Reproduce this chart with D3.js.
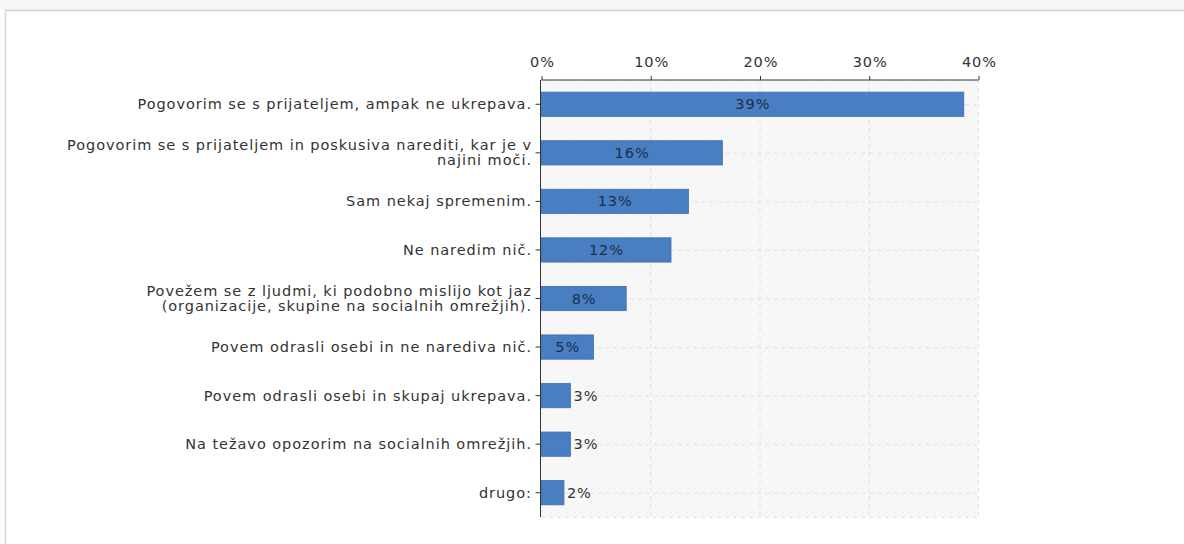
<!DOCTYPE html>
<html><head><meta charset="utf-8">
<script src="https://cdn.jsdelivr.net/npm/d3@7"></script>
<style>
html,body{margin:0;padding:0;background:#fff;}
svg{display:block;}
</style></head>
<body>
<script>
const categories = [
  ["Pogovorim se s prijateljem, ampak ne ukrepava."],
  ["Pogovorim se s prijateljem in poskusiva narediti, kar je v", "najini moči."],
  ["Sam nekaj spremenim."],
  ["Ne naredim nič."],
  ["Povežem se z ljudmi, ki podobno mislijo kot jaz", "(organizacije, skupine na socialnih omrežjih)."],
  ["Povem odrasli osebi in ne narediva nič."],
  ["Povem odrasli osebi in skupaj ukrepava."],
  ["Na težavo opozorim na socialnih omrežjih."],
  ["drugo:"]
];
const values = [38.7, 16.6, 13.5, 11.9, 7.8, 4.8, 2.7, 2.7, 2.1];
const valueLabels = ["39%", "16%", "13%", "12%", "8%", "5%", "3%", "3%", "2%"];
const tickValues = [0, 10, 20, 30, 40];
const tickLabels = ["0%", "10%", "20%", "30%", "40%"];

(function () {
const W = 1184, H = 544;
const FONT = "DejaVu Sans, Verdana, sans-serif", FS = 14.5, LS = 0.95;
const svg = d3.select("body").append("svg").attr("width", W).attr("height", H);

svg.append("rect").attr("x", 0).attr("y", 0).attr("width", W).attr("height", 10).attr("fill", "#f6f6f6");
svg.append("line").attr("x1", 5).attr("x2", W).attr("y1", 10.5).attr("y2", 10.5).attr("stroke", "#cfcfcf").attr("stroke-width", 1.5);
svg.append("line").attr("x1", 5.5).attr("x2", 5.5).attr("y1", 10).attr("y2", H).attr("stroke", "#d8d8d8").attr("stroke-width", 1.5);

const pL = 541, pR = 978, pT = 80, pB = 517;
const x = d3.scaleLinear().domain([0, 40]).range([pL, pR]);
const y = d3.scaleBand().domain(d3.range(categories.length)).range([pT, pB]).paddingInner(0.5).paddingOuter(0.25);

const defs = svg.append("defs");
const pat = defs.append("pattern").attr("id", "hatch").attr("patternUnits", "userSpaceOnUse")
  .attr("width", 4).attr("height", 4).attr("patternTransform", "rotate(45)");
pat.append("rect").attr("width", 4).attr("height", 4).attr("fill", "#f8f8f8");
pat.append("line").attr("x1", 0).attr("x2", 0).attr("y1", 0).attr("y2", 4).attr("stroke", "#efefef").attr("stroke-width", 1);

svg.append("rect").attr("x", pL).attr("y", pT).attr("width", pR - pL).attr("height", pB - pT).attr("fill", "url(#hatch)");

const g = svg.append("g");
g.selectAll(".vg").data(tickValues.slice(1)).join("line")
  .attr("x1", d => x(d) + 0.5).attr("x2", d => x(d) + 0.5).attr("y1", pT).attr("y2", pB)
  .attr("stroke", "#e2e2e2").attr("stroke-dasharray", "4,4");
g.selectAll(".hg").data(d3.range(categories.length)).join("line")
  .attr("x1", pL).attr("x2", pR).attr("y1", d => y(d) + y.bandwidth() / 2 + 0.5).attr("y2", d => y(d) + y.bandwidth() / 2 + 0.5)
  .attr("stroke", "#e2e2e2").attr("stroke-dasharray", "4,4");
g.append("line").attr("x1", pL).attr("x2", pR).attr("y1", pB + 0.5).attr("y2", pB + 0.5)
  .attr("stroke", "#e2e2e2").attr("stroke-dasharray", "4,4");

svg.selectAll(".bar").data(values).join("rect")
  .attr("x", x(0)).attr("y", (d, i) => y(i))
  .attr("width", d => x(d) - x(0)).attr("height", y.bandwidth())
  .attr("fill", "#4a7ec2").attr("stroke", "#3f70b0").attr("stroke-width", 0.8);

svg.selectAll(".vl").data(values).join("text")
  .attr("x", (d, i) => d >= 4 ? (x(0) + x(d)) / 2 + LS / 2 : x(d) + 3)
  .attr("y", (d, i) => y(i) + y.bandwidth() / 2)
  .attr("dy", "0.35em")
  .attr("text-anchor", d => d >= 4 ? "middle" : "start")
  .attr("font-family", FONT).attr("font-size", FS).attr("letter-spacing", LS)
  .attr("fill", d => d >= 4 ? "#1c2e4a" : "#333")
  .text((d, i) => valueLabels[i]);

const xAxis = d3.axisTop(x).tickValues(tickValues).tickFormat((d, i) => tickLabels[i]).tickSize(5).tickSizeOuter(0);
const ax = svg.append("g").attr("transform", `translate(0.5,${pT})`).call(xAxis);
ax.select(".domain").attr("stroke", "#333").attr("d", `M${pL},0H${pR}`);
ax.selectAll(".tick line").attr("stroke", "#333").attr("y2", -4);
ax.selectAll(".tick text").attr("font-family", FONT).attr("font-size", FS).attr("letter-spacing", LS)
  .attr("fill", "#333").attr("y", -13).attr("dx", LS / 2);

const yAxis = d3.axisLeft(y).tickSize(5).tickFormat("");
const ay = svg.append("g").attr("transform", `translate(${pL - 0.5},0)`).call(yAxis);
ay.select(".domain").attr("stroke", "#333").attr("d", `M0,${pT}V${pB}`);
ay.selectAll(".tick line").attr("stroke", "#333");

const lab = svg.selectAll(".cl").data(categories).join("text")
  .attr("font-family", FONT).attr("font-size", FS).attr("letter-spacing", LS).attr("fill", "#333")
  .attr("text-anchor", "end")
  .attr("transform", (d, i) => `translate(${pL - 10 + LS},${y(i) + y.bandwidth() / 2})`);
lab.each(function (d) {
  const t = d3.select(this);
  const n = d.length, lh = 15;
  d.forEach((line, k) => {
    t.append("tspan").attr("x", 0).attr("y", (k - (n - 1) / 2) * lh).attr("dy", "0.35em").text(line);
  });
});
})();
</script>
</body></html>
